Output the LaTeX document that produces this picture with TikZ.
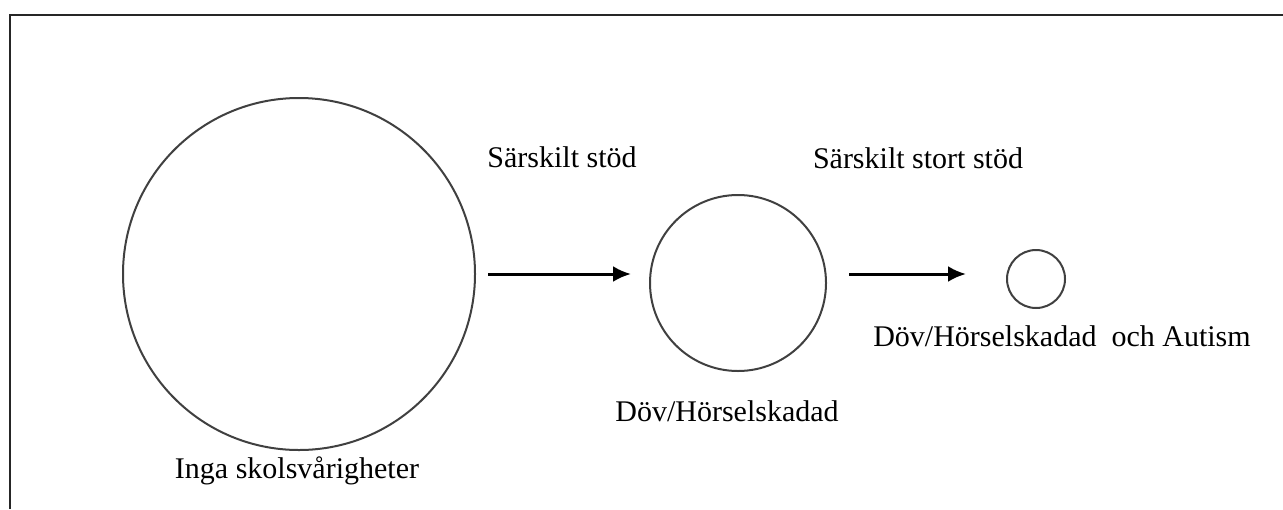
\documentclass[tikz,border=0pt]{standalone}
\usepackage{fontspec}
\setmainfont{Liberation Serif}
\usetikzlibrary{arrows.meta,positioning}

\begin{document}
\begin{tikzpicture}[x=0.5pt,y=-0.5pt,
        circ/.style={draw=black!75, line width=1pt, circle, inner sep=0pt},
        arr/.style={-{Latex[length=9pt,width=8pt]}, line width=1.5pt},
        lbl/.style={anchor=base, inner sep=0pt, font=\fontsize{15pt}{18pt}\selectfont}]
        \useasboundingbox (0,0) rectangle (1283,509);
        \draw[line width=0.75pt, black!85] (10,509) -- (10,15) -- (1283,15);

        \node (big) [circ, minimum size=176pt] at (299,274) {};
        \node (mid) [circ, minimum size=88pt] at (738,283) {};
        \node (small) [circ, minimum size=29pt] at (1036,279) {};

        \node (none) [lbl] at (297,478) {Inga skolsvårigheter};
        \node (deaf) [lbl] at (727,421) {Döv/Hörselskadad};
        \node (both) [lbl] at (1062,346) {Döv/Hörselskadad\ \ och Autism};
        \node (sup1) [lbl] at (562,167) {Särskilt stöd};
        \node (sup2) [lbl] at (918,168) {Särskilt stort stöd};

        \draw[arr, shorten <=6pt, shorten >=9pt] (big) -- (big -| mid.west);
        \draw[arr, shorten <=11pt, shorten >=20pt] (mid.east |- big) -- (big -| small.west);

\end{tikzpicture}
\end{document}
